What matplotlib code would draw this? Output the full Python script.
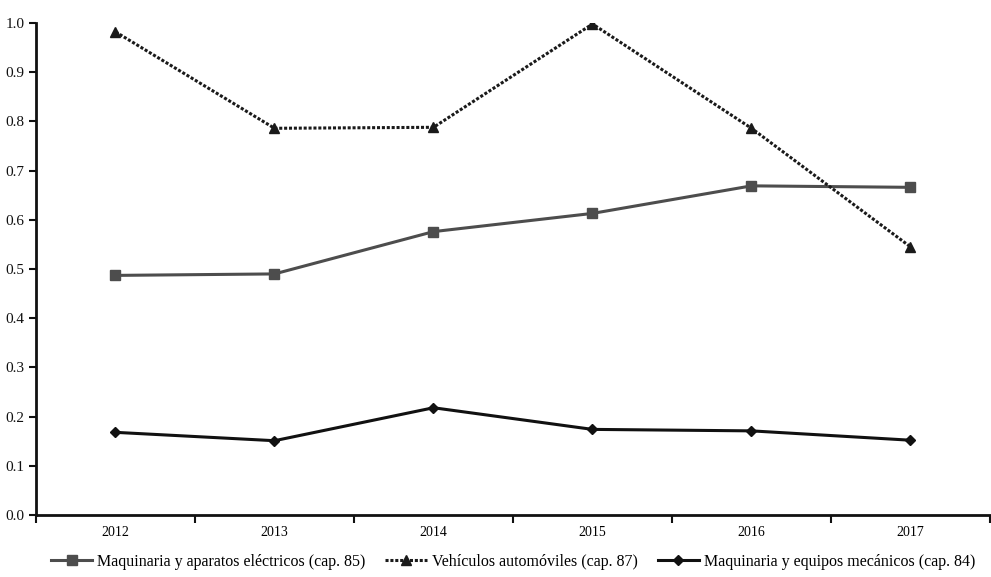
import matplotlib.pyplot as plt
import numpy as np

plt.rcParams['font.family'] = ['Liberation Serif', 'DejaVu Serif']

years = ['2012', '2013', '2014', '2015', '2016', '2017']
electricos = [0.487, 0.490, 0.576, 0.613, 0.669, 0.666]
vehiculos = [0.982, 0.786, 0.788, 0.998, 0.786, 0.545]
mecanicos = [0.168, 0.151, 0.218, 0.174, 0.171, 0.152]

fig = plt.figure(figsize=(9.91, 5.77), dpi=100)
ax = fig.add_axes([36 / 991, 62 / 577, 954 / 991, 492 / 577])

x = np.arange(len(years))
ax.plot(x, electricos, color='#4d4d4d', lw=2.2, marker='s', ms=7,
        label='Maquinaria y aparatos eléctricos (cap. 85)')
ax.plot(x, vehiculos, color='#1a1a1a', lw=2.2, ls=(0, (1, 0.6)), marker='^', ms=7,
        label='Vehículos automóviles (cap. 87)')
ax.plot(x, mecanicos, color='#111111', lw=2.2, marker='D', ms=5,
        label='Maquinaria y equipos mecánicos (cap. 84)')

ax.set_xlim(-0.5, len(years) - 0.5)
ax.set_ylim(0, 1.0)
ax.set_yticks(np.arange(0, 1.01, 0.1))
ax.set_yticklabels([f'{v:.1f}' for v in np.arange(0, 1.01, 0.1)])
ax.set_xticks(np.arange(-0.5, len(years), 1))
ax.set_xticklabels([])
ax.set_xticks(x, minor=True)
ax.set_xticklabels(years, minor=True)
ax.tick_params(axis='x', which='minor', length=0, pad=8)
ax.tick_params(axis='x', which='major', length=6, width=1.5, direction='out')
ax.tick_params(axis='y', length=5, width=1.5, direction='out')
ax.tick_params(labelsize=11, colors='#111111')

for s in ['top', 'right']:
    ax.spines[s].set_visible(False)
for s in ['left', 'bottom']:
    ax.spines[s].set_linewidth(2)
    ax.spines[s].set_color('#111111')

ax.legend(loc='upper center', bbox_to_anchor=(0.5, -0.05), ncol=3, frameon=False,
          fontsize=11.5, handlelength=2.6, columnspacing=1.25, handletextpad=0.3)

fig.savefig('out.png', dpi=100)
